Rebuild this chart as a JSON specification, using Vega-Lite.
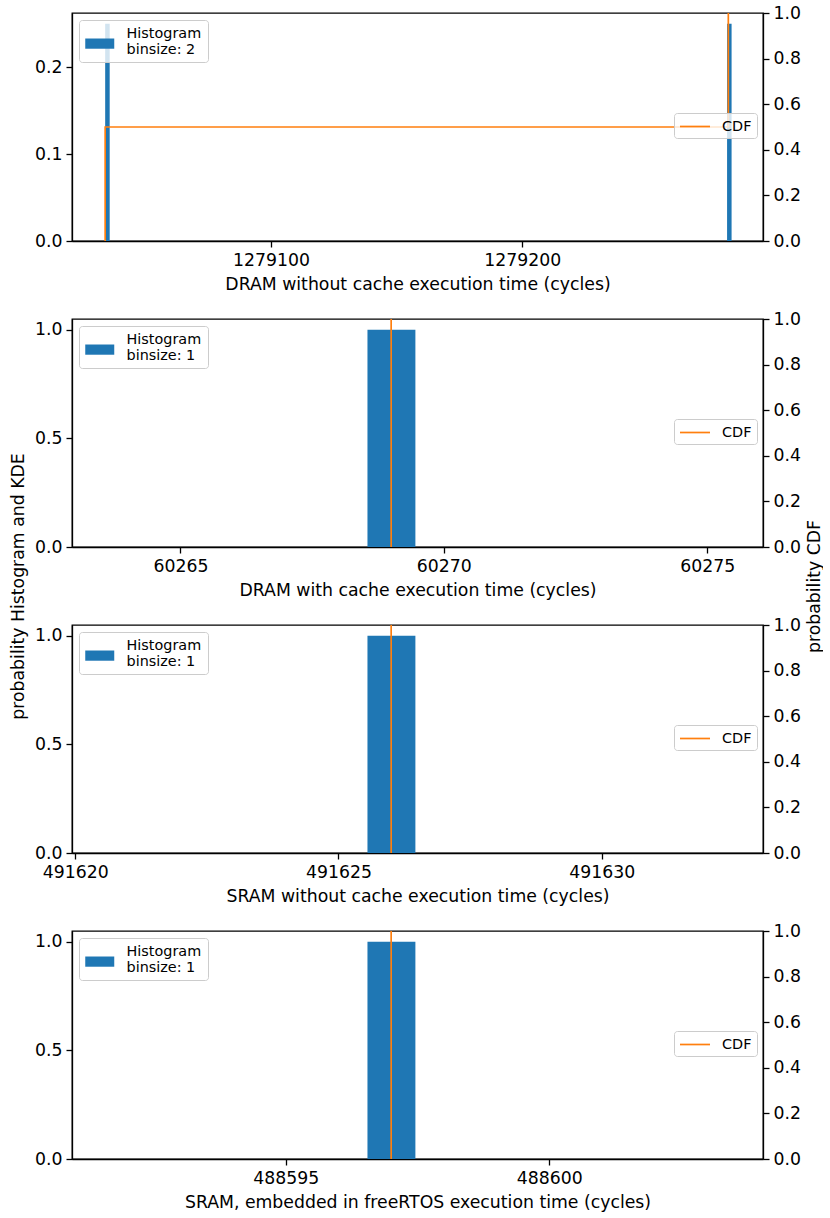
{
  "$schema": "https://vega.github.io/schema/vega-lite/v6.json",
  "background": "white",
  "padding": {"left": 8, "top": 3, "right": 0, "bottom": 0},
  "datasets": {
    "hist": [
      {"panel": "dram_nc", "bin_start": 1279034.0, "bin_end": 1279035.8, "density": 0.25, "label": "Histogram\nbinsize: 2"},
      {"panel": "dram_nc", "bin_start": 1279281.5, "bin_end": 1279283.3, "density": 0.25, "label": "Histogram\nbinsize: 2"},
      {"panel": "dram_c", "bin_start": 60268.55, "bin_end": 60269.46, "density": 1.0, "label": "Histogram\nbinsize: 1"},
      {"panel": "sram_nc", "bin_start": 491625.55, "bin_end": 491626.46, "density": 1.0, "label": "Histogram\nbinsize: 1"},
      {"panel": "sram_rtos", "bin_start": 488596.55, "bin_end": 488597.46, "density": 1.0, "label": "Histogram\nbinsize: 1"}
    ],
    "cdf": [
      {"panel": "dram_nc", "time": 1279034, "cdf": 0.0, "step": 0, "label": "CDF"},
      {"panel": "dram_nc", "time": 1279034, "cdf": 0.5, "step": 1, "label": "CDF"},
      {"panel": "dram_nc", "time": 1279282, "cdf": 0.5, "step": 2, "label": "CDF"},
      {"panel": "dram_nc", "time": 1279282, "cdf": 1.0, "step": 3, "label": "CDF"},
      {"panel": "dram_c", "time": 60269, "cdf": 0.0, "step": 0, "label": "CDF"},
      {"panel": "dram_c", "time": 60269, "cdf": 1.0, "step": 1, "label": "CDF"},
      {"panel": "sram_nc", "time": 491626, "cdf": 0.0, "step": 0, "label": "CDF"},
      {"panel": "sram_nc", "time": 491626, "cdf": 1.0, "step": 1, "label": "CDF"},
      {"panel": "sram_rtos", "time": 488597, "cdf": 0.0, "step": 0, "label": "CDF"},
      {"panel": "sram_rtos", "time": 488597, "cdf": 1.0, "step": 1, "label": "CDF"}
    ]
  },
  "bounds": "flush",
  "spacing": 78,
  "resolve": {"scale": {"x": "independent", "y": "independent", "fill": "independent", "stroke": "independent"}},
  "vconcat": [
    {
      "width": 691, "height": 228,
      "resolve": {"scale": {"y": "independent"}},
      "layer": [
        {
          "data": {"name": "hist"},
          "transform": [{"filter": "datum.panel === 'dram_nc'"}],
          "mark": {"type": "rect"},
          "encoding": {
            "x": {"field": "bin_start", "type": "quantitative", "scale": {"domain": [1279020.8, 1279295.8], "nice": false, "zero": false}, "axis": {"values": [1279100, 1279200], "format": "d", "title": "DRAM without cache execution time (cycles)"}},
            "x2": {"field": "bin_end"},
            "y": {"field": "density", "type": "quantitative", "scale": {"domain": [0, 0.2625], "nice": false}, "axis": {"orient": "left", "values": [0, 0.1, 0.2], "format": ".1f", "title": null}},
            "y2": {"datum": 0},
            "fill": {"field": "label", "type": "nominal", "scale": {"range": ["#1f77b4"]}, "legend": {"title": null, "orient": "top-left", "offset": 7, "padding": 6, "symbolType": "M-1,0.69H3V2.1H-1Z", "symbolSize": 210.25, "symbolStrokeWidth": 0, "labelOffset": 26.5, "labelExpr": "split(datum.label, '\\n')", "strokeColor": "#cccccc", "fillColor": "rgba(255,255,255,0.8)", "cornerRadius": 3}}
          }
        },
        {
          "data": {"name": "cdf"},
          "transform": [{"filter": "datum.panel === 'dram_nc'"}],
          "mark": {"type": "line", "strokeWidth": 1.7},
          "encoding": {
            "x": {"field": "time", "type": "quantitative", "scale": {"domain": [1279020.8, 1279295.8], "nice": false, "zero": false}, "axis": {"values": [1279100, 1279200], "format": "d", "title": "DRAM without cache execution time (cycles)"}},
            "y": {"field": "cdf", "type": "quantitative", "scale": {"domain": [0, 1], "nice": false}, "axis": {"orient": "right", "values": [0, 0.2, 0.4, 0.6, 0.8, 1.0], "format": ".1f", "title": null}},
            "order": {"field": "step"},
            "stroke": {"field": "label", "type": "nominal", "scale": {"range": ["#ff7f0e"]}, "legend": {"title": null, "orient": "none", "legendX": 602, "legendY": 100, "padding": 5, "symbolType": "M-1,0H3", "symbolSize": 225, "symbolStrokeWidth": 1.7, "symbolFillColor": "transparent", "labelOffset": 26, "strokeColor": "#cccccc", "fillColor": "rgba(255,255,255,0.8)", "cornerRadius": 3}}
          }
        }
      ]
    },
    {
      "width": 691, "height": 228,
      "resolve": {"scale": {"y": "independent"}},
      "layer": [
        {
          "data": {"name": "hist"},
          "transform": [{"filter": "datum.panel === 'dram_c'"}],
          "mark": {"type": "rect"},
          "encoding": {
            "x": {"field": "bin_start", "type": "quantitative", "scale": {"domain": [60262.94, 60276.06], "nice": false, "zero": false}, "axis": {"values": [60265, 60270, 60275], "format": "d", "title": "DRAM with cache execution time (cycles)"}},
            "x2": {"field": "bin_end"},
            "y": {"field": "density", "type": "quantitative", "scale": {"domain": [0, 1.05], "nice": false}, "axis": {"orient": "left", "values": [0, 0.5, 1.0], "format": ".1f", "title": "probability Histogram and KDE", "titleX": -54, "titleY": 267, "titleAngle": 270, "titleAlign": "center", "titleBaseline": "middle"}},
            "y2": {"datum": 0},
            "fill": {"field": "label", "type": "nominal", "scale": {"range": ["#1f77b4"]}, "legend": {"title": null, "orient": "top-left", "offset": 7, "padding": 6, "symbolType": "M-1,0.69H3V2.1H-1Z", "symbolSize": 210.25, "symbolStrokeWidth": 0, "labelOffset": 26.5, "labelExpr": "split(datum.label, '\\n')", "strokeColor": "#cccccc", "fillColor": "rgba(255,255,255,0.8)", "cornerRadius": 3}}
          }
        },
        {
          "data": {"name": "cdf"},
          "transform": [{"filter": "datum.panel === 'dram_c'"}],
          "mark": {"type": "line", "strokeWidth": 1.7},
          "encoding": {
            "x": {"field": "time", "type": "quantitative", "scale": {"domain": [60262.94, 60276.06], "nice": false, "zero": false}, "axis": {"values": [60265, 60270, 60275], "format": "d", "title": "DRAM with cache execution time (cycles)"}},
            "y": {"field": "cdf", "type": "quantitative", "scale": {"domain": [0, 1], "nice": false}, "axis": {"orient": "right", "values": [0, 0.2, 0.4, 0.6, 0.8, 1.0], "format": ".1f", "title": "probability CDF", "titleX": 51, "titleY": 267, "titleAngle": 270, "titleAlign": "center", "titleBaseline": "middle"}},
            "order": {"field": "step"},
            "stroke": {"field": "label", "type": "nominal", "scale": {"range": ["#ff7f0e"]}, "legend": {"title": null, "orient": "none", "legendX": 602, "legendY": 100, "padding": 5, "symbolType": "M-1,0H3", "symbolSize": 225, "symbolStrokeWidth": 1.7, "symbolFillColor": "transparent", "labelOffset": 26, "strokeColor": "#cccccc", "fillColor": "rgba(255,255,255,0.8)", "cornerRadius": 3}}
          }
        }
      ]
    },
    {
      "width": 691, "height": 228,
      "resolve": {"scale": {"y": "independent"}},
      "layer": [
        {
          "data": {"name": "hist"},
          "transform": [{"filter": "datum.panel === 'sram_nc'"}],
          "mark": {"type": "rect"},
          "encoding": {
            "x": {"field": "bin_start", "type": "quantitative", "scale": {"domain": [491619.94, 491633.06], "nice": false, "zero": false}, "axis": {"values": [491620, 491625, 491630], "format": "d", "title": "SRAM without cache execution time (cycles)"}},
            "x2": {"field": "bin_end"},
            "y": {"field": "density", "type": "quantitative", "scale": {"domain": [0, 1.05], "nice": false}, "axis": {"orient": "left", "values": [0, 0.5, 1.0], "format": ".1f", "title": null}},
            "y2": {"datum": 0},
            "fill": {"field": "label", "type": "nominal", "scale": {"range": ["#1f77b4"]}, "legend": {"title": null, "orient": "top-left", "offset": 7, "padding": 6, "symbolType": "M-1,0.69H3V2.1H-1Z", "symbolSize": 210.25, "symbolStrokeWidth": 0, "labelOffset": 26.5, "labelExpr": "split(datum.label, '\\n')", "strokeColor": "#cccccc", "fillColor": "rgba(255,255,255,0.8)", "cornerRadius": 3}}
          }
        },
        {
          "data": {"name": "cdf"},
          "transform": [{"filter": "datum.panel === 'sram_nc'"}],
          "mark": {"type": "line", "strokeWidth": 1.7},
          "encoding": {
            "x": {"field": "time", "type": "quantitative", "scale": {"domain": [491619.94, 491633.06], "nice": false, "zero": false}, "axis": {"values": [491620, 491625, 491630], "format": "d", "title": "SRAM without cache execution time (cycles)"}},
            "y": {"field": "cdf", "type": "quantitative", "scale": {"domain": [0, 1], "nice": false}, "axis": {"orient": "right", "values": [0, 0.2, 0.4, 0.6, 0.8, 1.0], "format": ".1f", "title": null}},
            "order": {"field": "step"},
            "stroke": {"field": "label", "type": "nominal", "scale": {"range": ["#ff7f0e"]}, "legend": {"title": null, "orient": "none", "legendX": 602, "legendY": 100, "padding": 5, "symbolType": "M-1,0H3", "symbolSize": 225, "symbolStrokeWidth": 1.7, "symbolFillColor": "transparent", "labelOffset": 26, "strokeColor": "#cccccc", "fillColor": "rgba(255,255,255,0.8)", "cornerRadius": 3}}
          }
        }
      ]
    },
    {
      "width": 691, "height": 228,
      "resolve": {"scale": {"y": "independent"}},
      "layer": [
        {
          "data": {"name": "hist"},
          "transform": [{"filter": "datum.panel === 'sram_rtos'"}],
          "mark": {"type": "rect"},
          "encoding": {
            "x": {"field": "bin_start", "type": "quantitative", "scale": {"domain": [488590.94, 488604.06], "nice": false, "zero": false}, "axis": {"values": [488595, 488600], "format": "d", "title": "SRAM, embedded in freeRTOS execution time (cycles)"}},
            "x2": {"field": "bin_end"},
            "y": {"field": "density", "type": "quantitative", "scale": {"domain": [0, 1.05], "nice": false}, "axis": {"orient": "left", "values": [0, 0.5, 1.0], "format": ".1f", "title": null}},
            "y2": {"datum": 0},
            "fill": {"field": "label", "type": "nominal", "scale": {"range": ["#1f77b4"]}, "legend": {"title": null, "orient": "top-left", "offset": 7, "padding": 6, "symbolType": "M-1,0.69H3V2.1H-1Z", "symbolSize": 210.25, "symbolStrokeWidth": 0, "labelOffset": 26.5, "labelExpr": "split(datum.label, '\\n')", "strokeColor": "#cccccc", "fillColor": "rgba(255,255,255,0.8)", "cornerRadius": 3}}
          }
        },
        {
          "data": {"name": "cdf"},
          "transform": [{"filter": "datum.panel === 'sram_rtos'"}],
          "mark": {"type": "line", "strokeWidth": 1.7},
          "encoding": {
            "x": {"field": "time", "type": "quantitative", "scale": {"domain": [488590.94, 488604.06], "nice": false, "zero": false}, "axis": {"values": [488595, 488600], "format": "d", "title": "SRAM, embedded in freeRTOS execution time (cycles)"}},
            "y": {"field": "cdf", "type": "quantitative", "scale": {"domain": [0, 1], "nice": false}, "axis": {"orient": "right", "values": [0, 0.2, 0.4, 0.6, 0.8, 1.0], "format": ".1f", "title": null}},
            "order": {"field": "step"},
            "stroke": {"field": "label", "type": "nominal", "scale": {"range": ["#ff7f0e"]}, "legend": {"title": null, "orient": "none", "legendX": 602, "legendY": 100, "padding": 5, "symbolType": "M-1,0H3", "symbolSize": 225, "symbolStrokeWidth": 1.7, "symbolFillColor": "transparent", "labelOffset": 26, "strokeColor": "#cccccc", "fillColor": "rgba(255,255,255,0.8)", "cornerRadius": 3}}
          }
        }
      ]
    }
  ],
  "config": {
    "font": "DejaVu Sans",
    "view": {"stroke": "#000000", "strokeWidth": 1.3},
    "style": {"guide-label": {"lineHeight": 16}},
    "axis": {
      "grid": false,
      "domainColor": "#000000", "domainWidth": 1.3,
      "tickColor": "#000000", "tickWidth": 1.3, "tickSize": 6,
      "labelFont": "DejaVu Sans", "labelFontSize": 17.3, "labelColor": "#000000", "labelPadding": 4,
      "titleFont": "DejaVu Sans", "titleFontSize": 17.3, "titleFontWeight": "normal", "titleColor": "#000000", "titlePadding": 7
    },
    "legend": {"labelFont": "DejaVu Sans", "labelFontSize": 14.4, "labelColor": "#000000"}
  }
}
